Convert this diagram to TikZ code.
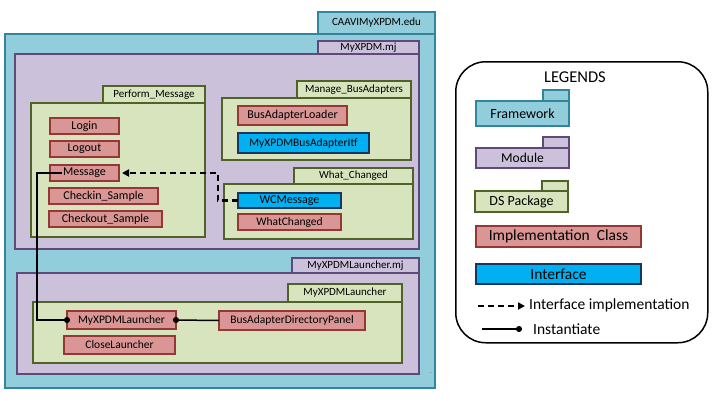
\documentclass[tikz,border=0pt]{standalone}
\usepackage{fontspec}
\setmainfont{Carlito}
\usepackage{xcolor}
\usepackage{tikz}
\usetikzlibrary{positioning}
\usetikzlibrary{arrows.meta}

\definecolor{fwFill}{HTML}{92CDDC}
\definecolor{fwDraw}{HTML}{31859C}
\definecolor{modFill}{HTML}{CCC1DA}
\definecolor{modDraw}{HTML}{5F497A}
\definecolor{pkgFill}{HTML}{D7E4BD}
\definecolor{pkgDraw}{HTML}{4F6228}
\definecolor{implFill}{HTML}{D99694}
\definecolor{implDraw}{HTML}{953735}
\definecolor{itfFill}{HTML}{00B0F0}
\definecolor{itfDraw}{HTML}{17375E}

\begin{document}
\begin{tikzpicture}
  [
    x=1pt, y=-1pt,
    box/.style={
       inner sep=0pt,
       outer sep=0pt,
       line width=1.5pt
    },
    fw/.style={box, fill=fwFill, draw=fwDraw},
    mod/.style={box, fill=modFill, draw=modDraw},
    pkg/.style={box, fill=pkgFill, draw=pkgDraw},
    impl/.style={box, fill=implFill, draw=implDraw, font=\fontsize{11.5}{13}\selectfont},
    itf/.style={box, fill=itfFill, draw=itfDraw, font=\fontsize{11.5}{13}\selectfont},
    big/.style={font=\fontsize{12}{14}\selectfont},
    tab/.style={anchor=south east, font=\fontsize{11}{12}\selectfont},
    area/.style={anchor=north west},
    lg/.style={font=\fontsize{15.5}{18}\selectfont},
    impl-ld/.style={
       draw=black,
       line width=2.5pt,
       dash pattern=on 6pt off 4pt,
       -{Triangle[length=7pt,width=7pt]}
    },
    inst/.style={
       draw=black,
       line width=1.5pt,
       -{Circle[length=6pt]}
    }
  ]
  \useasboundingbox (0,0) rectangle (721,400);

  \node (edu)       at (5,34)   [fw, area, minimum width=430pt, minimum height=354pt] {};
  \node (eduTab)    at (edu.north east) [fw, tab, minimum width=117pt, minimum height=22pt] {CAAVIMyXPDM.edu};

  \node (xpdmMj)    at (15,54)  [mod, area, minimum width=404pt, minimum height=195pt] {};
  \node (xpdmMjTab) at (xpdmMj.north east) [mod, tab, minimum width=101pt, minimum height=13pt] {MyXPDM.mj};

  \node (perform)    at (31,103) [pkg, area, minimum width=174pt, minimum height=134pt] {};
  \node (performTab) at (perform.north east) [pkg, tab, minimum width=102pt, minimum height=17pt] {Perform\_Message};

  \node (manage)    at (222,98) [pkg, area, minimum width=189pt, minimum height=62pt] {};
  \node (manageTab) at (manage.north east) [pkg, tab, minimum width=114pt, minimum height=17pt] {Manage\_BusAdapters};

  \node (whatChg)    at (224,184) [pkg, area, minimum width=189pt, minimum height=55pt] {};
  \node (whatChgTab) at (whatChg.north east) [pkg, tab, minimum width=119pt, minimum height=16pt] {What\_Changed};

  \node (launchMj)    at (17,273) [mod, area, minimum width=402pt, minimum height=101pt] {};
  \node (launchMjTab) at (launchMj.north east) [mod, tab, minimum width=127pt, minimum height=15pt] {MyXPDMLauncher.mj};

  \node (launchPkg)    at (33,302) [pkg, area, minimum width=369pt, minimum height=61pt] {};
  \node (launchPkgTab) at (launchPkg.north east) [pkg, tab, minimum width=114pt, minimum height=18pt] {MyXPDMLauncher};

  \node (login)     at (84.5,126)  [impl, big, minimum width=69pt,  minimum height=16pt] {Login};
  \node (logout)    at (84.5,149)  [impl, big, minimum width=69pt,  minimum height=16pt] {Logout};
  \node (message)   at (84.5,173)  [impl, big, minimum width=69pt,  minimum height=16pt] {Message};
  \node (checkin)   at (103.5,196) [impl, big, minimum width=109pt, minimum height=16pt] {Checkin\_Sample};
  \node (checkout)  at (105.5,219) [impl, big, minimum width=113pt, minimum height=16pt] {Checkout\_Sample};
  \node (busLoader) at (292.5,115.5) [impl, big, minimum width=109pt, minimum height=19pt] {BusAdapterLoader};
  \node (busItf)    at (303.5,143) [itf,  minimum width=131pt, minimum height=20pt] {MyXPDMBusAdapterItf};
  \node (wcMessage) at (289.5,200.5) [itf, big, minimum width=103pt, minimum height=15pt] {WCMessage};
  \node (whatCls)   at (289.5,222) [impl, minimum width=103pt, minimum height=16pt] {WhatChanged};
  \node (launchCls) at (121.5,320) [impl, minimum width=109pt, minimum height=18pt] {MyXPDMLauncher};
  \node (closeCls)  at (119.5,345) [impl, minimum width=111pt, minimum height=18pt] {CloseLauncher};
  \node (panel)     at (292,320.5) [impl, minimum width=146pt, minimum height=19pt] {BusAdapterDirectoryPanel};
  \node (strayDot)  at (431,373)   [font=\tiny] {.};

  \draw [impl-ld, shorten >=3pt] (wcMessage.west) -- ++(-20,0) |- (message.east);
  \draw [inst, shorten >=-3pt] ([xshift=12pt]message.west) -- ++(-25,0) |- (launchCls.west);
  \draw [inst, shorten >=-3pt] (panel.west) -- (launchCls.east);

  % legend
  \node (legendBox) at (455,61) [area, draw=black, line width=1.5pt, rounded corners=30pt,
        minimum width=252pt, minimum height=281pt] {};
  \node (legendTitle) at (575,77) [font=\fontsize{16.5}{18}\selectfont] {LEGENDS};

  \node (lgFw)     at (476,101) [fw, area, minimum width=93pt, minimum height=25pt,
        font=\fontsize{14}{16}\selectfont] {Framework};
  \node (lgFwTab)  at (lgFw.north east) [fw, tab, minimum width=26pt, minimum height=11pt] {};
  \node (lgMod)    at (476,148) [mod, area, minimum width=93pt, minimum height=20pt,
        font=\fontsize{13.5}{15}\selectfont] {Module};
  \node (lgModTab) at (lgMod.north east) [mod, tab, minimum width=26pt, minimum height=11pt] {};
  \node (lgPkg)    at (475,191) [pkg, area, minimum width=93pt, minimum height=21pt,
        font=\fontsize{14}{16}\selectfont] {DS Package};
  \node (lgPkgTab) at (lgPkg.north east) [pkg, tab, minimum width=26pt, minimum height=10pt] {};
  \node (lgImpl)   at (558.5,236.5) [impl, lg, minimum width=165pt, minimum height=21pt] {Implementation\ \ Class};
  \node (lgItf)    at (558.5,274) [itf, lg, minimum width=165pt, minimum height=20pt] {Interface};

  \coordinate (lgLdA) at (478,306);
  \coordinate (lgLdB) at (525,306);
  \draw [impl-ld] (lgLdA) -- (lgLdB);
  \node (lgLdText) at (529,305) [anchor=west, inner sep=0pt, lg] {Interface implementation};

  \coordinate (lgInA) at (482,329);
  \coordinate (lgInB) at (522,329);
  \draw [inst] (lgInA) -- (lgInB);
  \node (lgInText) at (533,329) [anchor=west, inner sep=0pt, lg] {Instantiate};
\end{tikzpicture}
\end{document}
